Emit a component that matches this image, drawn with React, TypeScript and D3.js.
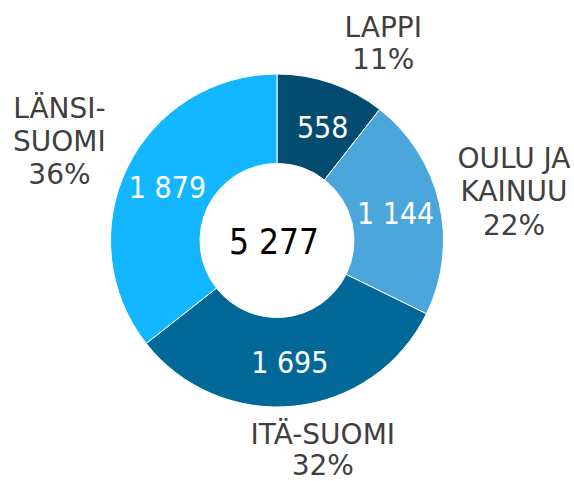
import * as d3 from "d3";
import React, { useRef, useEffect } from "react";

const regions = ["LAPPI", "OULU JA KAINUU", "ITÄ-SUOMI", "LÄNSI-SUOMI"];
const labelLines = [["LAPPI"], ["OULU JA", "KAINUU"], ["ITÄ-SUOMI"], ["LÄNSI-", "SUOMI"]];
const counts = [558, 1144, 1695, 1879];
const valueLabels = ["558", "1 144", "1 695", "1 879"];
const shareLabels = ["11%", "22%", "32%", "36%"];
const totalLabel = "5 277";
const colors = ["#034B6F", "#4AA6DB", "#026898", "#12B7FF"];

const width = 574;
const height = 481;
const cx = 277;
const cy = 240.5;
const outerR = 166.5;
const innerR = 77;
const numFont = "'DejaVu Sans Condensed', 'Liberation Sans', sans-serif";
const textFont = "'DejaVu Sans', 'Liberation Sans', sans-serif";
// nudges for the outside labels (dx to block centre, dy to first baseline)
const nudge = [
  [48, -35],
  [63, -33],
  [27, 26],
  [-57, -45],
];
const lineHeights = [32, 33.5, 30.5, 33];
// small nudges for the inside value labels
const valueNudge = [
  [6, 2],
  [0, 0],
  [0, 0],
  [0, 0],
];

function DonutChart() {
  const ref = useRef<SVGSVGElement>(null);

  useEffect(() => {
    draw();
  }, []); // eslint-disable-line react-hooks/exhaustive-deps

  const draw = () => {
    const svg = d3.select(ref.current);
    const data = regions.map((r, i) => ({ region: r, count: counts[i], i }));

    const pie = d3
      .pie<any>()
      .sort(null)
      .value((d) => d.count);
    const arcs = pie(data);

    const arc = d3.arc<any>().innerRadius(innerR).outerRadius(outerR);
    const labelArc = d3.arc<any>().innerRadius(outerR + 12).outerRadius(outerR + 12);

    const chart = svg
      .selectAll(".chart")
      .data([null])
      .join("g")
      .classed("chart", true)
      .attr("transform", `translate(${cx},${cy})`);

    chart
      .selectAll(".slice")
      .data(arcs)
      .join("path")
      .classed("slice", true)
      .attr("d", arc)
      .attr("fill", (d) => colors[d.data.i])
      .attr("stroke", "#fff")
      .attr("stroke-width", 1);

    chart
      .selectAll(".value")
      .data(arcs)
      .join("text")
      .classed("value", true)
      .attr("x", (d) => arc.centroid(d)[0] + valueNudge[d.data.i][0])
      .attr("y", (d) => arc.centroid(d)[1] + 11 + valueNudge[d.data.i][1])
      .attr("text-anchor", "middle")
      .attr("fill", "#fff")
      .style("font-family", numFont)
      .style("font-size", "30px")
      .text((d) => valueLabels[d.data.i]);

    chart
      .selectAll(".total")
      .data([totalLabel])
      .join("text")
      .classed("total", true)
      .attr("x", -3)
      .attr("y", 13.5)
      .attr("text-anchor", "middle")
      .attr("fill", "#000")
      .style("font-family", numFont)
      .style("font-size", "35px")
      .text((d) => d);

    const outer = chart
      .selectAll(".outer-label")
      .data(arcs)
      .join("text")
      .classed("outer-label", true)
      .attr("text-anchor", "middle")
      .attr("fill", "#404040")
      .style("font-family", textFont)
      .style("font-size", "28px");

    outer
      .selectAll("tspan")
      .data((d) => {
        const [ax, ay] = labelArc.centroid(d);
        const i = d.data.i;
        const lines = [...labelLines[i], shareLabels[i]];
        return lines.map((t, k) => ({
          t,
          x: ax + nudge[i][0],
          y: ay + nudge[i][1] + k * lineHeights[i],
        }));
      })
      .join("tspan")
      .attr("x", (d) => d.x)
      .attr("y", (d) => d.y)
      .text((d) => d.t);
  };

  return (
    <svg
      ref={ref}
      width={width}
      height={height}
      style={{ position: "absolute", left: 0, top: 0, background: "#fff" }}
    ></svg>
  );
}

export default function App() {
  return <DonutChart />;
}
